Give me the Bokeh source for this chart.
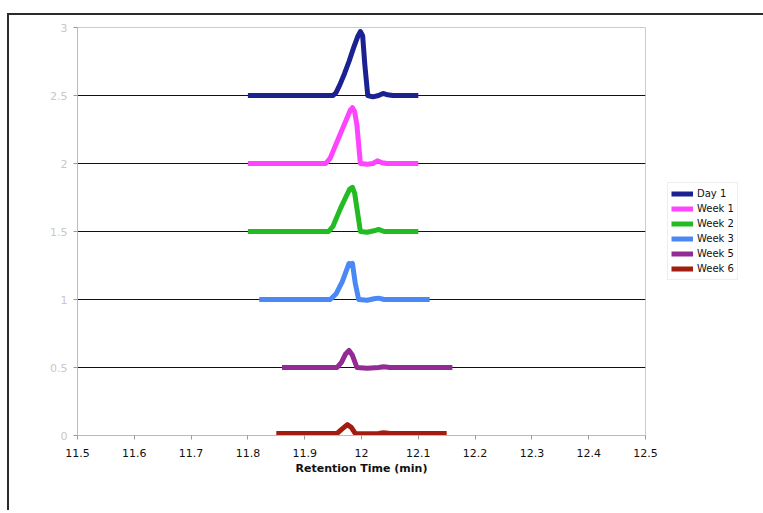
from bokeh.plotting import figure
from bokeh.models import FixedTicker, NumeralTickFormatter, Legend, LegendItem, Range1d
from bokeh.embed import file_html
from bokeh.resources import INLINE

# ---- data ----
series_names = ["Day 1", "Week 1", "Week 2", "Week 3", "Week 5", "Week 6"]
series_colors = ["#1b2190", "#ff44ff", "#22bb22", "#4a88f5", "#922c94", "#a31c10"]

day1_x = [11.800, 11.950, 11.955, 11.962, 11.970, 11.978, 11.986, 11.993, 11.998, 12.002, 12.006, 12.011, 12.020, 12.030, 12.038, 12.046, 12.055, 12.100]
day1_y = [2.50, 2.50, 2.52, 2.58, 2.66, 2.75, 2.85, 2.93, 2.97, 2.94, 2.72, 2.50, 2.49, 2.50, 2.515, 2.505, 2.50, 2.50]

week1_x = [11.800, 11.937, 11.945, 11.954, 11.963, 11.972, 11.980, 11.984, 11.988, 11.992, 11.998, 12.010, 12.020, 12.028, 12.036, 12.045, 12.100]
week1_y = [2.00, 2.00, 2.04, 2.13, 2.22, 2.31, 2.39, 2.41, 2.38, 2.28, 2.00, 1.995, 2.00, 2.02, 2.005, 2.00, 2.00]

week2_x = [11.800, 11.942, 11.950, 11.963, 11.972, 11.979, 11.984, 11.988, 11.992, 11.998, 12.010, 12.022, 12.030, 12.040, 12.100]
week2_y = [1.50, 1.50, 1.54, 1.67, 1.75, 1.81, 1.825, 1.78, 1.67, 1.50, 1.495, 1.505, 1.515, 1.50, 1.50]

week3_x = [11.820, 11.945, 11.955, 11.966, 11.974, 11.978, 11.981, 11.984, 11.989, 11.995, 12.010, 12.022, 12.030, 12.040, 12.120]
week3_y = [1.00, 1.00, 1.04, 1.13, 1.22, 1.265, 1.25, 1.265, 1.12, 1.00, 0.995, 1.005, 1.01, 1.00, 1.00]

week5_x = [11.860, 11.957, 11.965, 11.972, 11.978, 11.984, 11.992, 12.010, 12.030, 12.039, 12.050, 12.160]
week5_y = [0.50, 0.50, 0.54, 0.60, 0.625, 0.59, 0.50, 0.495, 0.50, 0.505, 0.50, 0.50]

week6_x = [11.850, 11.957, 11.965, 11.975, 11.982, 11.989, 12.010, 12.030, 12.039, 12.050, 12.150]
week6_y = [0.015, 0.015, 0.045, 0.08, 0.06, 0.015, 0.012, 0.015, 0.02, 0.015, 0.015]

x_ticks = [11.5, 11.6, 11.7, 11.8, 11.9, 12.0, 12.1, 12.2, 12.3, 12.4, 12.5]
y_ticks = [0, 0.5, 1, 1.5, 2, 2.5, 3]
grid_levels = [0.5, 1, 1.5, 2, 2.5]

xs = [day1_x, week1_x, week2_x, week3_x, week5_x, week6_x]
ys = [day1_y, week1_y, week2_y, week3_y, week5_y, week6_y]

FONT = "DejaVu Sans"

p = figure(frame_width=568, frame_height=408, output_backend="svg", toolbar_location=None,
           x_range=Range1d(11.5, 12.5), y_range=Range1d(0, 3),
           min_border_left=68, min_border_right=0, min_border_top=12, min_border_bottom=75)
p.styles = {"margin-top": "13px", "margin-left": "7px",
            "border-top": "2px solid #2b2b2b", "border-left": "2px solid #2b2b2b"}

p.background_fill_color = "white"
p.border_fill_color = "white"
p.outline_line_color = "#cccccc"
p.outline_line_width = 1

# grid
p.xgrid.grid_line_color = None
p.ygrid.ticker = FixedTicker(ticks=grid_levels)
p.ygrid.grid_line_color = "#111111"
p.ygrid.grid_line_width = 1

# axes
p.xaxis.ticker = FixedTicker(ticks=x_ticks)
p.yaxis.ticker = FixedTicker(ticks=y_ticks)
p.xaxis.formatter = NumeralTickFormatter(format="0.[0]")
p.yaxis.formatter = NumeralTickFormatter(format="0.[0]")
for ax in (p.xaxis[0], p.yaxis[0]):
    ax.axis_line_color = "#bbbbbb"
    ax.major_tick_line_color = "#999999"
    ax.major_tick_in = 0
    ax.major_tick_out = 4
    ax.minor_tick_line_color = None
    ax.major_label_text_font = FONT
    ax.major_label_text_font_size = "11px"
p.xaxis.major_label_text_color = "#111111"
p.yaxis.major_label_text_color = "#c8c8c8"
p.xaxis.major_label_standoff = 9
p.yaxis.major_label_standoff = 6
p.xaxis.axis_label = "Retention Time (min)"
p.xaxis.axis_label_text_font = FONT
p.xaxis.axis_label_text_font_style = "bold"
p.xaxis.axis_label_text_font_size = "11px"
p.xaxis.axis_label_text_color = "#111111"
p.xaxis.axis_label_standoff = 2

items = []
for name, color, x, y in zip(series_names, series_colors, xs, ys):
    r = p.line(x, y, line_color=color, line_width=5, line_join="round", line_cap="butt")
    items.append(LegendItem(label=name, renderers=[r]))

legend = Legend(items=items, location="center_left")
legend.border_line_color = "#dddddd"
legend.border_line_width = 1
legend.background_fill_color = "white"
legend.padding = 3
legend.spacing = 0
legend.margin = 22
legend.glyph_width = 22
legend.glyph_height = 15
legend.label_height = 15
legend.label_standoff = 4
legend.label_text_font = FONT
legend.label_text_font_size = "10px"
legend.label_text_color = "#111111"
p.add_layout(legend, "right")

open("out.html", "w").write(file_html(p, INLINE))
